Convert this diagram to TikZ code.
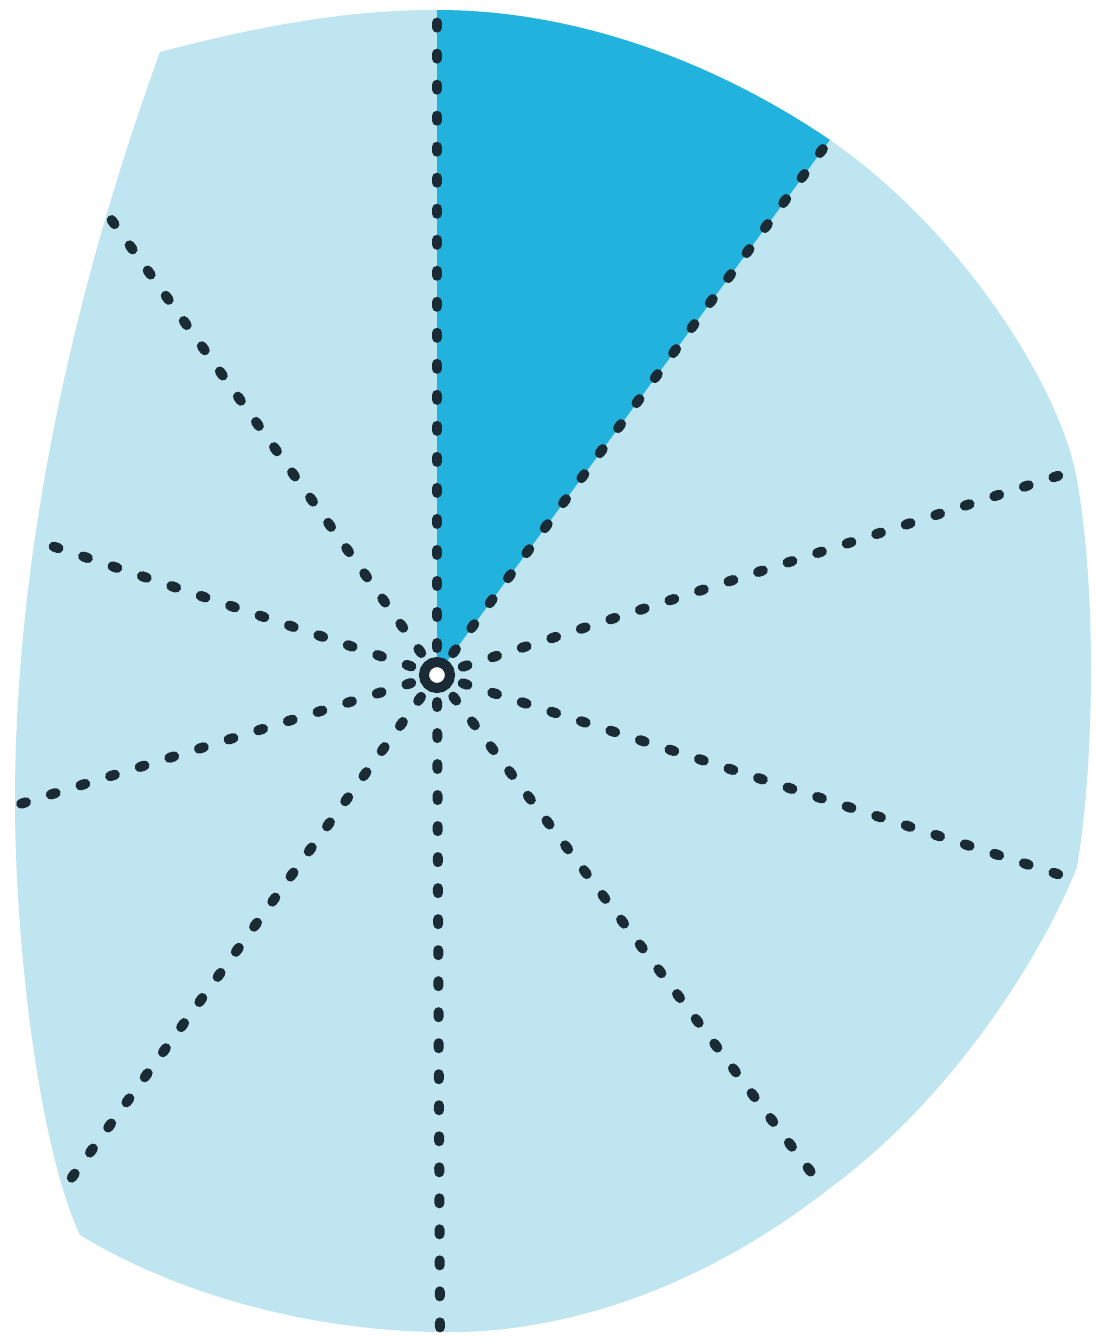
\documentclass[tikz,border=0pt]{standalone}
\begin{document}
\begin{tikzpicture}[x=0.01cm,y=-0.01cm,
  spoke/.style={draw=ink,line width=0.1cm,line cap=round,dash pattern=on 0.05cm off 0.26cm,shorten <=0.09cm},
  hub/.style={circle,draw=ink,line width=0.1cm,fill=white,minimum size=0.26cm,inner sep=0pt}]
\definecolor{light}{HTML}{BFE6F0}
\definecolor{dark}{HTML}{22B2DE}
\definecolor{ink}{HTML}{1B2B36}
\useasboundingbox[fill=white] (0,0) rectangle (1096,1344);
\def\outline{(160,52) .. controls (300,15) and (380,10) .. (437,10)
 .. controls (580,10) and (720,65) .. (830,140)
 .. controls (960,230) and (1055,380) .. (1075,470)
 .. controls (1097,580) and (1095,760) .. (1077,867)
 .. controls (1040,960) and (950,1100) .. (830,1188)
 .. controls (700,1290) and (560,1335) .. (437,1332)
 .. controls (300,1330) and (170,1290) .. (80,1235)
 .. controls (40,1150) and (15,950) .. (15,800)
 .. controls (15,560) and (70,300) .. (160,52) -- cycle}
\fill[light] \outline;
\begin{scope}
 \clip \outline;
 \fill[dark] (437,675) -- (437,-100) -- (1006,-100) -- cycle;
\end{scope}
\coordinate (e0) at (437,14);
\coordinate (e1) at (828,142);
\coordinate (e2) at (1073,471);
\coordinate (e3) at (1073,879);
\coordinate (e4) at (826,1192);
\coordinate (e5) at (440,1333);
\coordinate (e6) at (57,1198);
\coordinate (e7) at (17,805);
\coordinate (e8) at (37,541);
\coordinate (e9) at (108,215);
\node[hub] (c) at (437,675) {};
\foreach \i in {0,...,9} { \draw[spoke] (c) -- (e\i); }
\end{tikzpicture}
\end{document}
